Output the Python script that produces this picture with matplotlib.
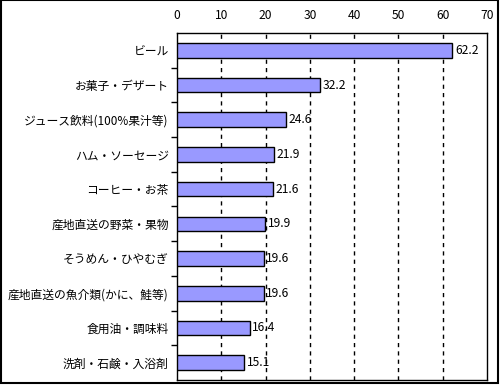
import matplotlib
matplotlib.use("Agg")
import matplotlib.pyplot as plt
import numpy as np

plt.rcParams['font.family'] = ['Noto Sans CJK JP', 'DejaVu Sans']

categories = ["ビール", "お菓子・デザート", "ジュース飲料(100%果汁等)", "ハム・ソーセージ",
              "コーヒー・お茶", "産地直送の野菜・果物", "そうめん・ひやむぎ",
              "産地直送の魚介類(かに、鮭等)", "食用油・調味料", "洗剤・石鹸・入浴剤"]
values = [62.2, 32.2, 24.6, 21.9, 21.6, 19.9, 19.6, 19.6, 16.4, 15.1]
xticks = [0, 10, 20, 30, 40, 50, 60, 70]

fig = plt.figure(figsize=(5.0, 3.85), dpi=100)
ax = fig.add_axes([177/500, 1-380/385, (487-177)/500, (380-33)/385])

y = np.arange(len(categories))
ax.barh(y, values, height=0.42, color='#9999FF', edgecolor='black', linewidth=1.0, zorder=3)
for yi, v in zip(y, values):
    ax.text(v + 0.6, yi, f"{v:.1f}", va='center', ha='left', fontsize=8.7, zorder=4)

ax.set_xlim(0, 70)
ax.set_ylim(len(categories) - 0.5, -0.5)
ax.set_xticks(xticks)
ax.xaxis.tick_top()
ax.tick_params(axis='x', length=0, labelsize=8.7, pad=8)
ax.set_yticks(y)
ax.set_yticklabels(categories, fontsize=8.5)
ax.tick_params(axis='y', which='major', length=0, pad=6)
ax.set_yticks(np.arange(0.5, len(categories) - 1, 1), minor=True)
ax.tick_params(axis='y', which='minor', length=4, width=1, direction='out')
for xv in xticks[1:-1]:
    ax.axvline(xv, color='black', linestyle=(0, (3, 3)), linewidth=1, zorder=1)
for s in ax.spines.values():
    s.set_linewidth(1)
    s.set_color('black')

fig.patches.append(plt.Rectangle((0.001, 0.004), 0.995, 0.995, transform=fig.transFigure,
                                 fill=False, edgecolor='black', linewidth=1.5))
fig.savefig("out.png", dpi=100)
